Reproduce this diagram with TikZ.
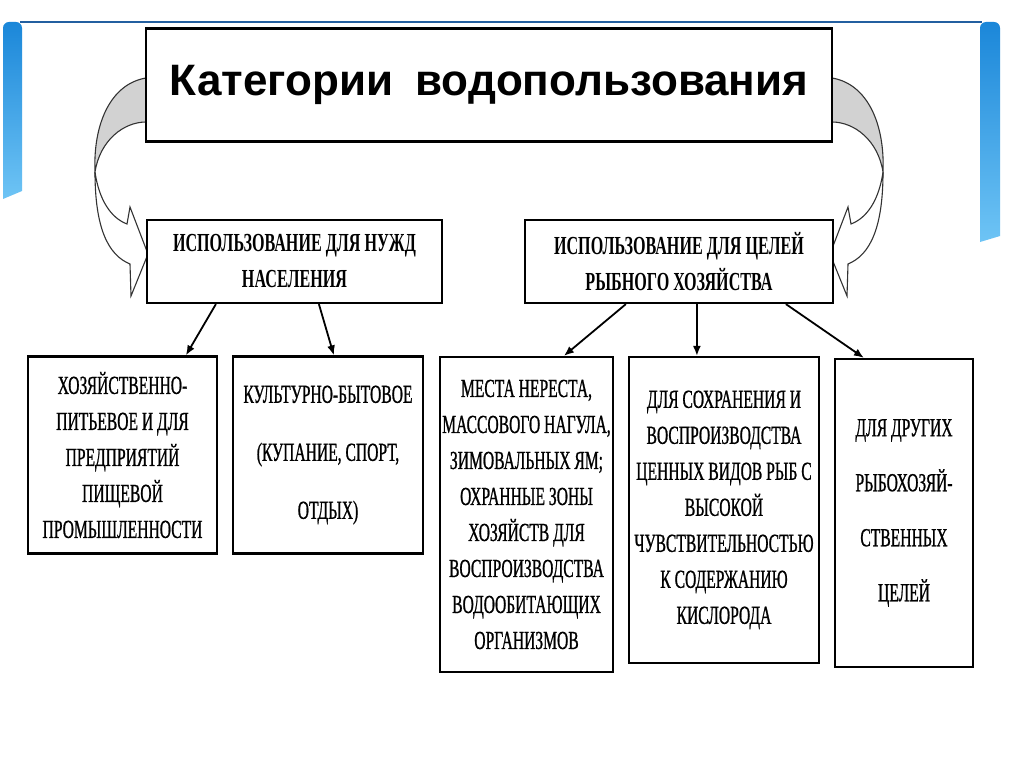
\documentclass[tikz,border=0pt]{standalone}
\usepackage{fontspec}
\setmainfont{Liberation Serif}
\newfontfamily\titlefont{Liberation Sans}
\newfontfamily\capsfont[FakeStretch=0.62]{Liberation Serif}
\newfontfamily\leaffont[FakeStretch=0.6, FakeBold=0.8]{Liberation Serif}
\usetikzlibrary{arrows.meta}
\definecolor{slideBlue}{RGB}{27,135,217}
\definecolor{slideLight}{RGB}{110,196,245}
\definecolor{slideLine}{RGB}{35,95,160}

\begin{document}
\begin{tikzpicture}[x=1pt,y=-1pt,
    box/.style={rectangle, draw=black, line width=2.2pt, fill=white,
                inner sep=0pt, align=center},
    midbox/.style={box, font=\capsfont\bfseries\fontsize{26}{36}\selectfont},
    leafbox/.style={box, font=\leaffont\fontsize{26}{36}\selectfont},
    conn/.style={-{Latex[length=10pt,width=8pt]}, line width=1.8pt},
    curvearrow/.style={draw=black!80, line width=1.1pt}
  ]
  \useasboundingbox[fill=white] (0,0) rectangle (1024,767);

  % slide frame
  \draw[slideLine, line width=1.5pt] (20,22) -- (982,22);
  \shade[top color=slideBlue, bottom color=slideLight, rounded corners=6pt]
    (3,199) -- (3,22) -- (22,22) [sharp corners] -- (22,191) -- cycle;
  \shade[top color=slideBlue, bottom color=slideLight, rounded corners=6pt]
    (980,242) -- (980,22) -- (1000,22) [sharp corners] -- (1000,236) -- cycle;

  % curved arrows, left one and its mirror
  \foreach \s/\t in {1/0, -1/978} {
    \begin{scope}[xshift=\t, xscale=\s]
      \filldraw[curvearrow, fill=gray!35]
        (146,78) .. controls (110,84) and (93,125) .. (95,172)
        .. controls (100,140) and (124,122) .. (146,122);
      \filldraw[curvearrow, fill=white]
        (95,172) .. controls (99,200) and (111,218) .. (127,224)
        -- (130,207) -- (148,254) -- (131,296) -- (130,264)
        .. controls (108,255) and (95,228) .. (95,172);
    \end{scope}
  }

  % boxes
  \node[box, line width=2.8pt, minimum width=686pt, minimum height=113pt,
        font=\titlefont\bfseries\fontsize{44}{50}\selectfont]
    (top) at (489,85) {Категории\hspace{0.5em}водопользования};

  \node[midbox, minimum width=295pt, minimum height=83pt] (pop) at (294.5,261.5)
    {ИСПОЛЬЗОВАНИЕ ДЛЯ НУЖД\\НАСЕЛЕНИЯ};
  \node[midbox, minimum width=308pt, minimum height=83pt] (fish) at (679,261.5)
    {ИСПОЛЬЗОВАНИЕ ДЛЯ ЦЕЛЕЙ\\РЫБНОГО ХОЗЯЙСТВА};

  \node[leafbox, minimum width=189pt, minimum height=197pt] (drink) at (122.5,455)
    {ХОЗЯЙСТВЕННО-\\ПИТЬЕВОЕ И ДЛЯ\\ПРЕДПРИЯТИЙ\\ПИЩЕВОЙ\\ПРОМЫШЛЕННОСТИ};
  \node[leafbox, minimum width=190pt, minimum height=197pt] (rest) at (328,455)
    {КУЛЬТУРНО-БЫТОВОЕ\\[22pt](КУПАНИЕ, СПОРТ,\\[22pt]ОТДЫХ)};
  \node[leafbox, minimum width=173pt, minimum height=315pt] (spawn) at (526.5,514.5)
    {МЕСТА НЕРЕСТА,\\МАССОВОГО НАГУЛА,\\ЗИМОВАЛЬНЫХ ЯМ;\\ОХРАННЫЕ ЗОНЫ\\ХОЗЯЙСТВ ДЛЯ\\ВОСПРОИЗВОДСТВА\\ВОДООБИТАЮЩИХ\\ОРГАНИЗМОВ};
  \node[leafbox, minimum width=190pt, minimum height=306pt] (rare) at (724,510)
    {ДЛЯ СОХРАНЕНИЯ И\\ВОСПРОИЗВОДСТВА\\ЦЕННЫХ ВИДОВ РЫБ С\\ВЫСОКОЙ\\ЧУВСТВИТЕЛЬНОСТЬЮ\\К СОДЕРЖАНИЮ\\КИСЛОРОДА};
  \node[leafbox, minimum width=138pt, minimum height=308pt] (other) at (904,513)
    {ДЛЯ ДРУГИХ\\[19pt]РЫБОХОЗЯЙ-\\[19pt]СТВЕННЫХ\\[19pt]ЦЕЛЕЙ};

  % connectors
  \foreach \a/\sa/\b/\sb in {pop/70/drink/159, pop/173/rest/102,
                             fish/102/spawn/125, fish/173/rare/69, fish/262/other/30}
    \draw[conn] ([xshift=\sa]\a.south west) -- ([xshift=\sb]\b.north west);
\end{tikzpicture}
\end{document}
